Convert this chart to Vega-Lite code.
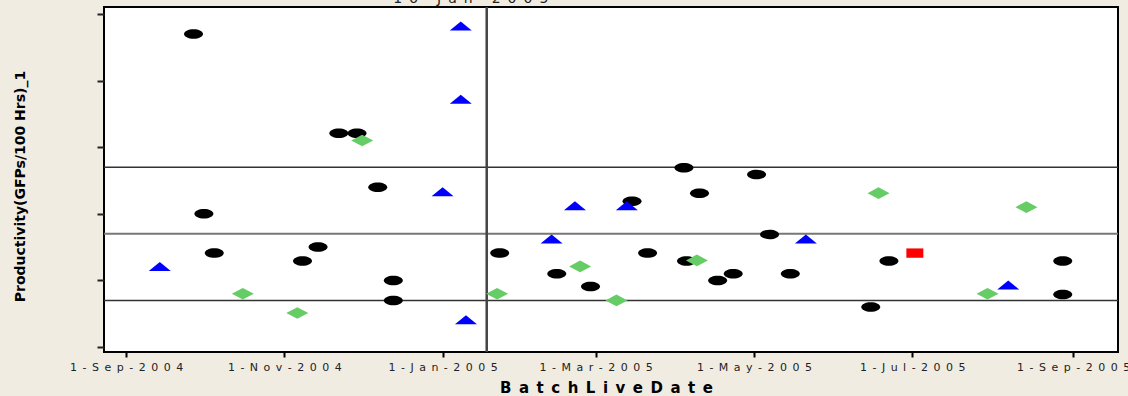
{
  "$schema": "https://vega.github.io/schema/vega-lite/v6.json",
  "width": 1014,
  "height": 345,
  "autosize": {"type": "none"},
  "padding": {"left": 104, "top": 7, "right": 10, "bottom": 44},
  "background": "#f0ece2",
  "config": {
    "view": {"stroke": "#000000", "strokeWidth": 2, "fill": "#ffffff"},
    "axisX": {
      "domain": false, "grid": false, "tickColor": "#000000", "tickWidth": 2, "tickSize": 5,
      "labelFont": "DejaVu Sans", "labelFontSize": 11, "labelColor": "#222222", "labelPadding": 4,
      "labelOverlap": false, "labelFlush": false,
      "titleFont": "DejaVu Sans", "titleFontWeight": "bold", "titleFontSize": 15, "titleColor": "#000000",
      "titleX": 502, "titleY": 40, "titleBaseline": "alphabetic", "titleAlign": "center"
    },
    "axisY": {
      "domain": false, "grid": false, "tickColor": "#222222", "tickWidth": 2, "tickSize": 7,
      "labels": false,
      "titleFont": "DejaVu Sans", "titleFontWeight": "bold", "titleFontSize": 14, "titleColor": "#000000",
      "titleX": -84, "titleY": 179, "titleAngle": -90, "titleAlign": "center", "titleBaseline": "middle"
    }
  },
  "datasets": {
    "points": [
      {"group": "A", "date": "2004-09-27", "value": 47.0},
      {"group": "A", "date": "2004-11-22", "value": 32.1},
      {"group": "A", "date": "2004-11-29", "value": 32.1},
      {"group": "A", "date": "2004-12-07", "value": 24.0},
      {"group": "A", "date": "2004-10-01", "value": 20.0},
      {"group": "A", "date": "2004-10-05", "value": 14.1},
      {"group": "A", "date": "2004-11-14", "value": 15.0},
      {"group": "A", "date": "2004-11-08", "value": 12.9},
      {"group": "A", "date": "2004-12-13", "value": 10.0},
      {"group": "A", "date": "2004-12-13", "value": 7.0},
      {"group": "A", "date": "2005-01-23", "value": 14.1},
      {"group": "A", "date": "2005-02-14", "value": 11.0},
      {"group": "A", "date": "2005-02-27", "value": 9.1},
      {"group": "A", "date": "2005-03-15", "value": 21.9},
      {"group": "A", "date": "2005-03-21", "value": 14.1},
      {"group": "A", "date": "2005-04-04", "value": 26.9},
      {"group": "A", "date": "2005-04-10", "value": 23.1},
      {"group": "A", "date": "2005-04-05", "value": 12.9},
      {"group": "A", "date": "2005-04-17", "value": 10.0},
      {"group": "A", "date": "2005-04-23", "value": 11.0},
      {"group": "A", "date": "2005-05-02", "value": 25.9},
      {"group": "A", "date": "2005-05-07", "value": 16.9},
      {"group": "A", "date": "2005-05-15", "value": 11.0},
      {"group": "A", "date": "2005-06-15", "value": 6.0},
      {"group": "A", "date": "2005-06-22", "value": 12.9},
      {"group": "A", "date": "2005-08-28", "value": 12.9},
      {"group": "A", "date": "2005-08-28", "value": 7.9},
      {"group": "B", "date": "2004-09-14", "value": 12.1},
      {"group": "B", "date": "2005-01-01", "value": 23.3},
      {"group": "B", "date": "2005-01-08", "value": 48.2},
      {"group": "B", "date": "2005-01-08", "value": 37.2},
      {"group": "B", "date": "2005-01-10", "value": 4.1},
      {"group": "B", "date": "2005-02-12", "value": 16.2},
      {"group": "B", "date": "2005-02-21", "value": 21.2},
      {"group": "B", "date": "2005-03-13", "value": 21.2},
      {"group": "B", "date": "2005-05-21", "value": 16.2},
      {"group": "B", "date": "2005-08-07", "value": 9.3},
      {"group": "C", "date": "2004-10-16", "value": 8.0},
      {"group": "C", "date": "2004-11-06", "value": 5.1},
      {"group": "C", "date": "2004-12-01", "value": 31.0},
      {"group": "C", "date": "2005-01-22", "value": 8.0},
      {"group": "C", "date": "2005-02-23", "value": 12.1},
      {"group": "C", "date": "2005-03-09", "value": 7.0},
      {"group": "C", "date": "2005-04-09", "value": 13.0},
      {"group": "C", "date": "2005-06-18", "value": 23.1},
      {"group": "C", "date": "2005-08-14", "value": 21.0},
      {"group": "C", "date": "2005-07-30", "value": 8.0},
      {"group": "D", "date": "2005-07-02", "value": 14.1}
    ],
    "limits": [
      {"kind": "UCL", "value": 27},
      {"kind": "CL", "value": 17},
      {"kind": "LCL", "value": 7}
    ],
    "marker": [
      {"date": "2005-01-18", "label": "16-Jan-2005"}
    ]
  },
  "layer": [
    {
      "data": {"name": "limits"},
      "transform": [{"filter": "datum.kind !== 'CL'"}],
      "mark": {"type": "rule", "stroke": "#333333", "strokeWidth": 1.5},
      "encoding": {
        "y": {"field": "value", "type": "quantitative", "scale": {"domain": [-0.75, 51.05], "nice": false, "zero": false},
              "axis": {"title": "Productivity(GFPs/100 Hrs)_1", "values": [0, 10, 20, 30, 40, 50]}}
      }
    },
    {
      "data": {"name": "limits"},
      "transform": [{"filter": "datum.kind === 'CL'"}],
      "mark": {"type": "rule", "stroke": "#777777", "strokeWidth": 2},
      "encoding": {
        "y": {"field": "value", "type": "quantitative"}
      }
    },
    {
      "data": {"name": "marker"},
      "mark": {"type": "rule", "stroke": "#444444", "strokeWidth": 2.5},
      "encoding": {
        "x": {"field": "date", "type": "temporal",
              "scale": {"type": "utc", "domain": [{"year": 2004, "month": 8, "date": 23, "hours": 12, "utc": true}, {"year": 2005, "month": 9, "date": 18, "hours": 7, "utc": true}]},
              "axis": {
                "title": "B\u2002a\u2002t\u2002c\u2002h\u2002L\u2002i\u2002v\u2002e\u2002D\u2002a\u2002t\u2002e",
                "values": [
                  {"year": 2004, "month": 9, "date": 1, "utc": true},
                  {"year": 2004, "month": 11, "date": 1, "utc": true},
                  {"year": 2005, "month": 1, "date": 1, "utc": true},
                  {"year": 2005, "month": 3, "date": 1, "utc": true},
                  {"year": 2005, "month": 5, "date": 1, "utc": true},
                  {"year": 2005, "month": 7, "date": 1, "utc": true},
                  {"year": 2005, "month": 9, "date": 1, "utc": true}
                ],
                "labelExpr": "replace(utcFormat(datum.value, '%-d-%b-%Y'), regexp('(.)(?=.)', 'g'), '$1\u2002')"
              }}
      }
    },
    {
      "data": {"name": "marker"},
      "mark": {"type": "text", "text": {"expr": "replace(datum.label, regexp('(.)(?=.)', 'g'), '$1\u2002')"},
               "font": "DejaVu Sans", "fontSize": 14, "fill": "#222222", "align": "center", "baseline": "alphabetic", "dx": -16, "dy": -4},
      "encoding": {
        "x": {"field": "date", "type": "temporal"},
        "y": {"datum": 51.05, "type": "quantitative"}
      }
    },
    {
      "data": {"name": "points"},
      "transform": [{"filter": "datum.group === 'A'"}],
      "mark": {"type": "point", "shape": "M-1,0A1,0.5,0,1,0,1,0A1,0.5,0,1,0,-1,0Z", "size": 361, "filled": true, "fill": "#000000", "opacity": 1, "strokeWidth": 0},
      "encoding": {
        "x": {"field": "date", "type": "temporal"},
        "y": {"field": "value", "type": "quantitative"}
      }
    },
    {
      "data": {"name": "points"},
      "transform": [{"filter": "datum.group === 'C'"}],
      "mark": {"type": "point", "shape": "M-1,0L0,-0.53L1,0L0,0.53Z", "size": 484, "filled": true, "fill": "#66cc66", "opacity": 1, "strokeWidth": 0},
      "encoding": {
        "x": {"field": "date", "type": "temporal"},
        "y": {"field": "value", "type": "quantitative"}
      }
    },
    {
      "data": {"name": "points"},
      "transform": [{"filter": "datum.group === 'B'"}],
      "mark": {"type": "point", "shape": "M-1,0.41L1,0.41L0,-0.41Z", "size": 484, "filled": true, "fill": "#0000ff", "opacity": 1, "strokeWidth": 0},
      "encoding": {
        "x": {"field": "date", "type": "temporal"},
        "y": {"field": "value", "type": "quantitative"}
      }
    },
    {
      "data": {"name": "points"},
      "transform": [{"filter": "datum.group === 'D'"}],
      "mark": {"type": "point", "shape": "M-1,-0.55L1,-0.55L1,0.55L-1,0.55Z", "size": 289, "filled": true, "fill": "#ff0000", "opacity": 1, "strokeWidth": 0},
      "encoding": {
        "x": {"field": "date", "type": "temporal"},
        "y": {"field": "value", "type": "quantitative"}
      }
    }
  ]
}
